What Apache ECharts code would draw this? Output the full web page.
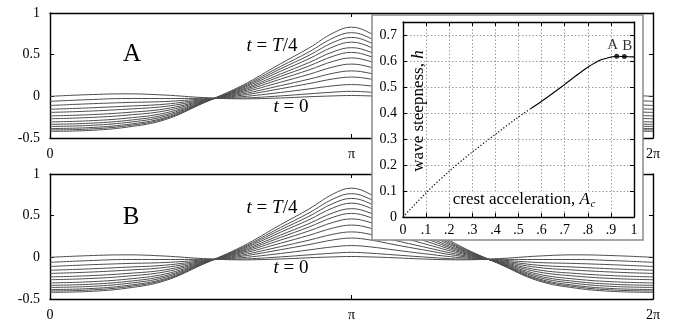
<!DOCTYPE html>
<html>
<head>
<meta charset="utf-8">
<script src="https://cdn.jsdelivr.net/npm/echarts@6/dist/echarts.min.js"></script>
<style>
  html, body { margin: 0; background: #fff; }
  #chart { width: 695px; height: 322px; }
</style>
</head>
<body>
<div id="chart"></div>
<script>
// horizontal position along the wave, in units of pi
const phase = [0, 0.127, 0.255, 0.382, 0.509, 0.637, 0.764, 0.859, 0.939, 1,
  1.061, 1.141, 1.236, 1.363, 1.491, 1.618, 1.745, 1.873, 2];

// surface elevation, t = 0 ... t = T/4
const eta0 = [0, 0.02, 0.03, 0.015, -0.015, -0.03, -0.02, -0.005, 0.005, 0.01, 0.005, -0.005, -0.02, -0.03, -0.015, 0.015, 0.03, 0.02, 0];
const eta1 = [-0.06, -0.04, -0.026, -0.026, -0.024, -0.02, 0.005, 0.03, 0.05, 0.06, 0.05, 0.03, 0.005, -0.02, -0.024, -0.026, -0.026, -0.04, -0.06];
const eta2 = [-0.11, -0.09, -0.074, -0.062, -0.032, -0.004, 0.046, 0.089, 0.126, 0.141, 0.126, 0.089, 0.046, -0.004, -0.032, -0.062, -0.074, -0.09, -0.11];
const eta3 = [-0.155, -0.139, -0.118, -0.094, -0.039, 0.013, 0.091, 0.153, 0.209, 0.231, 0.209, 0.153, 0.091, 0.013, -0.039, -0.094, -0.118, -0.139, -0.155];
const eta4 = [-0.193, -0.178, -0.154, -0.121, -0.045, 0.028, 0.128, 0.206, 0.277, 0.305, 0.277, 0.206, 0.128, 0.028, -0.045, -0.121, -0.154, -0.178, -0.193];
const eta5 = [-0.235, -0.221, -0.194, -0.15, -0.051, 0.044, 0.169, 0.264, 0.352, 0.387, 0.352, 0.264, 0.169, 0.044, -0.051, -0.15, -0.194, -0.221, -0.235];
const eta6 = [-0.269, -0.255, -0.226, -0.174, -0.057, 0.058, 0.206, 0.317, 0.42, 0.461, 0.42, 0.317, 0.206, 0.058, -0.057, -0.174, -0.226, -0.255, -0.269];
const eta7 = [-0.307, -0.294, -0.262, -0.2, -0.062, 0.071, 0.238, 0.364, 0.481, 0.527, 0.481, 0.364, 0.238, 0.071, -0.062, -0.2, -0.262, -0.294, -0.307];
const eta8 = [-0.336, -0.324, -0.29, -0.221, -0.067, 0.082, 0.267, 0.405, 0.534, 0.584, 0.534, 0.405, 0.267, 0.082, -0.067, -0.221, -0.29, -0.324, -0.336];
const eta9 = [-0.361, -0.35, -0.314, -0.239, -0.071, 0.095, 0.3, 0.451, 0.594, 0.65, 0.594, 0.451, 0.3, 0.095, -0.071, -0.239, -0.314, -0.35, -0.361];
const eta10 = [-0.386, -0.376, -0.338, -0.256, -0.075, 0.106, 0.329, 0.492, 0.647, 0.707, 0.647, 0.492, 0.329, 0.106, -0.075, -0.256, -0.338, -0.376, -0.386];
const eta11 = [-0.403, -0.393, -0.354, -0.268, -0.077, 0.117, 0.357, 0.533, 0.7, 0.764, 0.7, 0.533, 0.357, 0.117, -0.077, -0.268, -0.354, -0.393, -0.403];
const eta12 = [-0.42, -0.41, -0.37, -0.28, -0.08, 0.13, 0.39, 0.58, 0.76, 0.83, 0.76, 0.58, 0.39, 0.13, -0.08, -0.28, -0.37, -0.41, -0.42];
const profiles = [eta0, eta1, eta2, eta3, eta4, eta5, eta6, eta7, eta8, eta9, eta10, eta11, eta12];

const phaseLabels = ['0', 'π', '2π'];

// inset: steepness vs crest acceleration
const accelDotted = [0, 0.1, 0.2, 0.3, 0.4, 0.5, 0.55];
const steepDotted = [0, 0.093, 0.176, 0.25, 0.318, 0.385, 0.415];
const accelSolid = [0.55, 0.6, 0.65, 0.7, 0.75, 0.8, 0.85, 0.9, 0.925, 0.958, 1];
const steepSolid = [0.415, 0.445, 0.477, 0.51, 0.544, 0.576, 0.602, 0.615, 0.618, 0.617, 0.616];
const stateNames = ['A', 'B'];
const stateAccel = [0.925, 0.958];
const stateSteep = [0.618, 0.617];

const SERIF = '"Liberation Serif", "DejaVu Serif", serif';
const chart = echarts.init(document.getElementById('chart'), null, { renderer: 'canvas' });

const frame = { show: true, onZero: false, lineStyle: { color: '#000', width: 1.4 } };
const tickIn = { show: true, inside: true, length: 4, lineStyle: { color: '#000', width: 1 } };

function mainX(grid, pos) {
  return {
    type: 'value', gridIndex: grid, position: pos, min: 0, max: 2, interval: 1,
    axisLine: frame, axisTick: tickIn, splitLine: { show: false },
    axisLabel: pos === 'bottom'
      ? { show: true, margin: 9, fontFamily: SERIF, fontSize: 14, color: '#000', formatter: (v) => phaseLabels[Math.round(v)] }
      : { show: false },
  };
}
function mainY(grid, pos) {
  return {
    type: 'value', gridIndex: grid, position: pos, min: -0.5, max: 1, interval: 0.5,
    axisLine: frame, axisTick: tickIn, splitLine: { show: false },
    axisLabel: pos === 'left'
      ? { show: true, margin: 10, fontFamily: SERIF, fontSize: 14, color: '#000' }
      : { show: false },
  };
}
const dotted = { show: true, lineStyle: { color: '#9a9a9a', type: [1.5, 2], width: 1 } };

const series = [];
[0, 2].forEach((ax) => {
  profiles.forEach((p) => {
    series.push({
      type: 'line', xAxisIndex: ax, yAxisIndex: ax, symbol: 'none', smooth: 0.4, silent: true,
      lineStyle: { color: '#4d4d4d', width: 1 },
      data: phase.map((x, i) => [x, p[i]]),
    });
  });
});
series.push({
  type: 'line', xAxisIndex: 4, yAxisIndex: 4, zlevel: 1, symbol: 'none', smooth: 0.3,
  lineStyle: { color: '#000', width: 1.2, type: [1.2, 2] },
  data: accelDotted.map((a, i) => [a, steepDotted[i]]),
});
series.push({
  type: 'line', xAxisIndex: 4, yAxisIndex: 4, zlevel: 1, symbol: 'none', smooth: 0.3,
  lineStyle: { color: '#000', width: 1.1 },
  data: accelSolid.map((a, i) => [a, steepSolid[i]]),
});
series.push({
  type: 'scatter', xAxisIndex: 4, yAxisIndex: 4, zlevel: 1, symbolSize: 5,
  itemStyle: { color: '#000' },
  label: {
    show: true, position: 'top', distance: 1, fontFamily: SERIF, fontSize: 15, color: '#000',
    formatter: (p) => p.name,
  },
  data: stateNames.map((n, i) => ({
    name: n, value: [stateAccel[i], stateSteep[i]],
    label: { offset: [i === 0 ? -4 : 3, 0] },
  })),
});

const ital = { fontFamily: SERIF, fontSize: 19, fontStyle: 'italic', fill: '#000' };
const roman = { fontFamily: SERIF, fontSize: 19, fill: '#000' };
function tLabel(x, y, text) {
  return {
    type: 'text', x, y, z: 10,
    style: { text, textAlign: 'center', textVerticalAlign: 'middle', fontFamily: SERIF, fontSize: 19, fill: '#000', rich: { i: ital, r: roman } },
  };
}
function bigLabel(x, y, text) {
  return {
    type: 'text', x, y, z: 10,
    style: { text, textAlign: 'center', textVerticalAlign: 'middle', font: '25px ' + SERIF, fill: '#000' },
  };
}

chart.setOption({
  animation: false,
  backgroundColor: '#fff',
  grid: [
    { left: 50, top: 13, width: 603, height: 125 },
    { left: 50, top: 174, width: 603, height: 126 },
    { left: 403, top: 22, width: 231, height: 195, zlevel: 1 },
  ],
  xAxis: [
    mainX(0, 'bottom'), mainX(0, 'top'), mainX(1, 'bottom'), mainX(1, 'top'),
    {
      type: 'value', gridIndex: 2, position: 'bottom', min: 0, max: 1, interval: 0.1, zlevel: 1,
      axisLine: frame, axisTick: tickIn, splitLine: dotted,
      axisLabel: {
        margin: 6, fontFamily: SERIF, fontSize: 14, color: '#000',
        formatter: (v) => (v === 0 ? '0' : v === 1 ? '1' : v.toFixed(1).slice(1)),
      },
    },
    {
      type: 'value', gridIndex: 2, position: 'top', min: 0, max: 1, interval: 0.1, zlevel: 1,
      axisLine: frame, axisTick: tickIn, splitLine: { show: false }, axisLabel: { show: false },
    },
  ],
  yAxis: [
    mainY(0, 'left'), mainY(0, 'right'), mainY(1, 'left'), mainY(1, 'right'),
    {
      type: 'value', gridIndex: 2, position: 'left', min: 0, max: 0.75, interval: 0.1, zlevel: 1,
      axisLine: frame, axisTick: tickIn, splitLine: dotted,
      axisLabel: {
        margin: 6, fontFamily: SERIF, fontSize: 14, color: '#000', showMaxLabel: false,
        formatter: (v) => (v === 0 ? '0' : v.toFixed(1)),
      },
    },
    {
      type: 'value', gridIndex: 2, position: 'right', min: 0, max: 0.75, interval: 0.1, zlevel: 1,
      axisLine: frame, axisTick: tickIn, splitLine: { show: false }, axisLabel: { show: false },
    },
  ],
  series,
  graphic: [
    bigLabel(132, 54, 'A'),
    bigLabel(131, 217, 'B'),
    tLabel(272, 46, '{i|t} = {i|T}/4'),
    tLabel(272, 208, '{i|t} = {i|T}/4'),
    tLabel(291, 107, '{i|t} = 0'),
    tLabel(291, 268, '{i|t} = 0'),
    {
      type: 'rect', zlevel: 1, z: -5,
      shape: { x: 372, y: 15, width: 271, height: 225 },
      style: { fill: '#fff', stroke: '#8a8a8a', lineWidth: 1.5 },
    },
    {
      type: 'text', zlevel: 1, z: 10, x: 419, y: 111, rotation: Math.PI / 2,
      style: {
        text: 'wave steepness, {i|h}', textAlign: 'center', textVerticalAlign: 'middle',
        fontFamily: SERIF, fontSize: 17, fill: '#000',
        rich: { i: { fontFamily: SERIF, fontSize: 17, fontStyle: 'italic', fill: '#000' } },
      },
    },
    {
      type: 'text', zlevel: 1, z: 10, x: 590, y: 200,
      style: {
        text: 'crest acceleration, {i|A}', textAlign: 'right', textVerticalAlign: 'middle',
        fontFamily: SERIF, fontSize: 17, fill: '#000', backgroundColor: '#fff',
        rich: { i: { fontFamily: SERIF, fontSize: 17, fontStyle: 'italic', fill: '#000' } },
      },
    },
    {
      type: 'text', zlevel: 1, z: 10, x: 590.5, y: 204,
      style: { text: 'c', textAlign: 'left', textVerticalAlign: 'middle', font: 'italic 11px ' + SERIF, fill: '#000' },
    },
  ],
});
</script>
</body>
</html>
